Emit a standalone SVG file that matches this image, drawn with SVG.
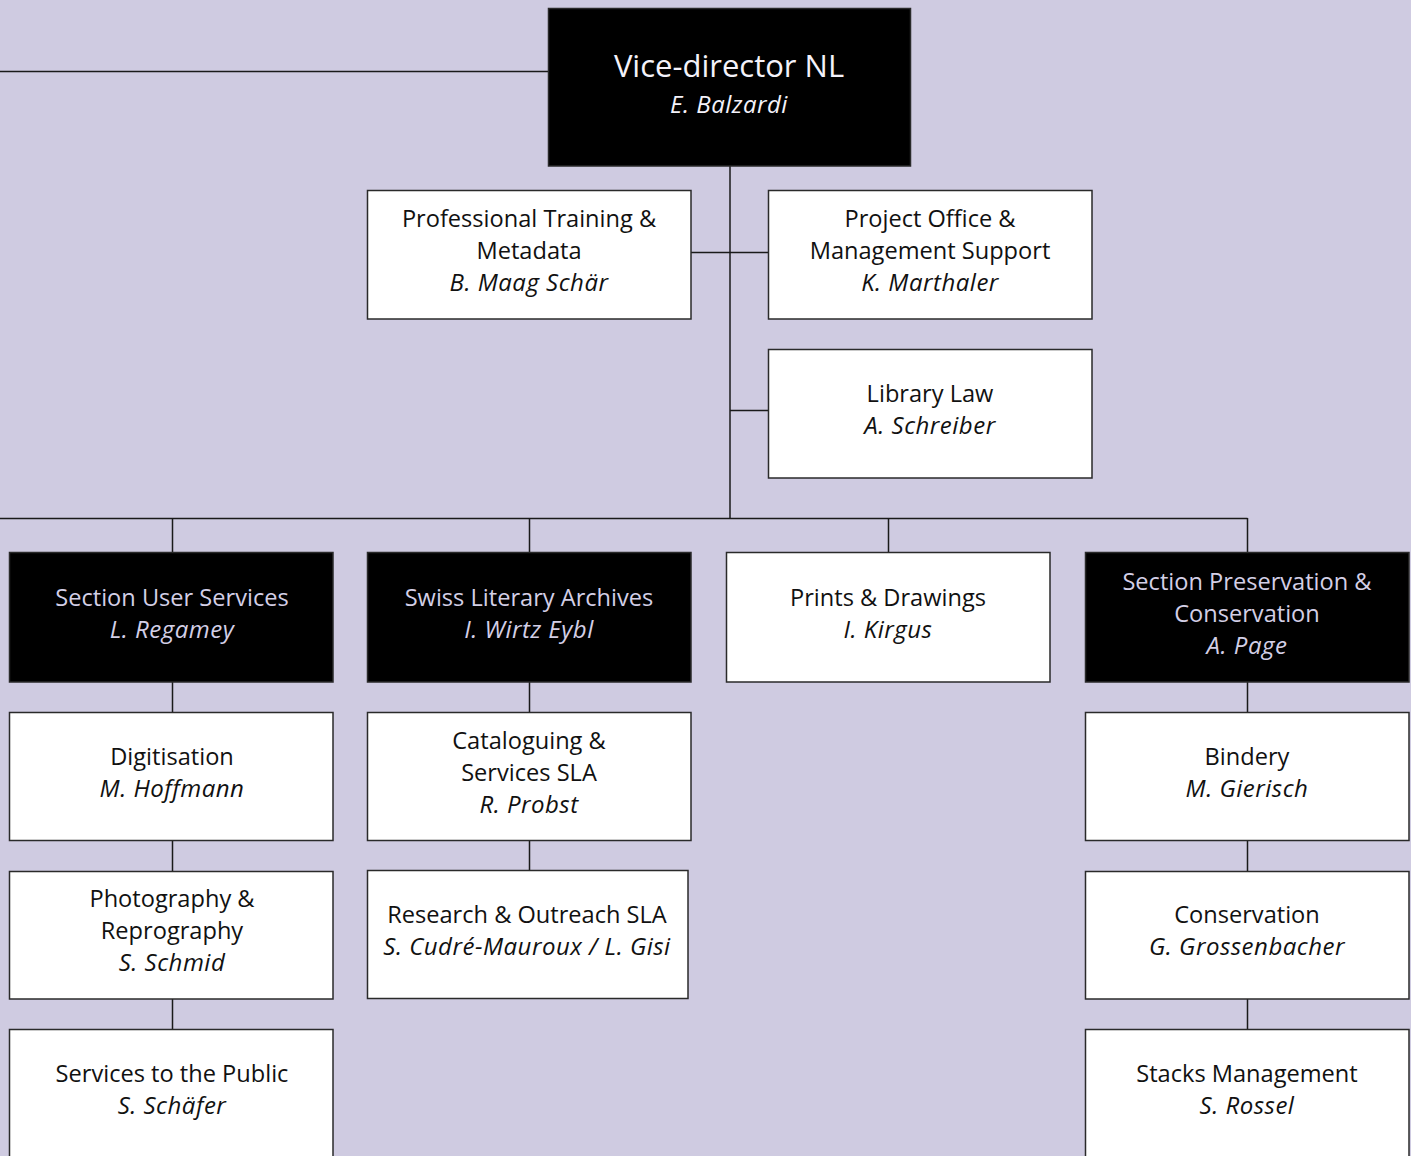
<svg xmlns="http://www.w3.org/2000/svg" width="1411" height="1156" viewBox="0 0 1411 1156">
<style>
.bg{fill:#CFCBE1}
.w{fill:#FFFFFF;stroke:#2a2a2a;stroke-width:1.5}
.b{fill:#000000;stroke:#2a2a2a;stroke-width:1.5}
.ln{stroke:#1a1a1a;stroke-width:1.5;fill:none}
text{font-family:"Open Sans","Noto Sans","Liberation Sans",sans-serif;font-size:23.6px;text-anchor:middle}
.tw{fill:#111}
.tb{fill:#D3CFE6}
.i{font-style:italic;font-size:24px;letter-spacing:0.5px}
</style>
<rect class="bg" x="0" y="0" width="1411" height="1156"/>
<g id="connectors">
<path class="ln" d="M0 71.5H548"/>
<path class="ln" d="M730 166V518"/>
<path class="ln" d="M691 252.5H768"/>
<path class="ln" d="M730 410.5H768"/>
<path class="ln" d="M0 518.5H1247.5"/>
<path class="ln" d="M172.5 518V552M529.5 518V552M888.5 518V552M1247.5 518V552"/>
<path class="ln" d="M172.5 682V712M172.5 840V871M172.5 999V1029"/>
<path class="ln" d="M529.5 682V712M529.5 840V871"/>
<path class="ln" d="M1247.5 682V712M1247.5 840V871M1247.5 999V1029"/>
</g>
<g id="vice-director">
<rect class="b" x="548.5" y="8.5" width="362" height="157.5"/>
<text x="729" y="77" style="font-size:31px;fill:#F4F2FA">Vice-director NL</text>
<text x="729" y="113" class="i" style="fill:#F4F2FA">E. Balzardi</text>
</g>
<g id="prof-training">
<rect class="w" x="367.5" y="190.5" width="323.5" height="128.5"/>
<text x="529" y="227" class="tw">Professional Training &amp;</text>
<text x="529" y="259" class="tw">Metadata</text>
<text x="529" y="291" class="tw i">B. Maag Schär</text>
</g>
<g id="project-office">
<rect class="w" x="768.5" y="190.5" width="323.5" height="128.5"/>
<text x="930" y="227" class="tw">Project Office &amp;</text>
<text x="930" y="259" class="tw">Management Support</text>
<text x="930" y="291" class="tw i">K. Marthaler</text>
</g>
<g id="library-law">
<rect class="w" x="768.5" y="349.5" width="323.5" height="128.5"/>
<text x="930" y="402" class="tw">Library Law</text>
<text x="930" y="434" class="tw i">A. Schreiber</text>
</g>
<g id="user-services">
<rect class="b" x="9.5" y="552.5" width="323.5" height="129.5"/>
<text x="172" y="606" class="tb">Section User Services</text>
<text x="172" y="638" class="tb i">L. Regamey</text>
</g>
<g id="literary-archives">
<rect class="b" x="367.5" y="552.5" width="323.5" height="129.5"/>
<text x="529" y="606" class="tb">Swiss Literary Archives</text>
<text x="529" y="638" class="tb i">I. Wirtz Eybl</text>
</g>
<g id="prints-drawings">
<rect class="w" x="726.5" y="552.5" width="323.5" height="129.5"/>
<text x="888" y="606" class="tw">Prints &amp; Drawings</text>
<text x="888" y="638" class="tw i">I. Kirgus</text>
</g>
<g id="preservation">
<rect class="b" x="1085.5" y="552.5" width="323.5" height="129.5"/>
<text x="1247" y="590" class="tb">Section Preservation &amp;</text>
<text x="1247" y="622" class="tb">Conservation</text>
<text x="1247" y="654" class="tb i">A. Page</text>
</g>
<g id="digitisation">
<rect class="w" x="9.5" y="712.5" width="323.5" height="128"/>
<text x="172" y="765" class="tw">Digitisation</text>
<text x="172" y="797" class="tw i">M. Hoffmann</text>
</g>
<g id="photography">
<rect class="w" x="9.5" y="871.5" width="323.5" height="127.5"/>
<text x="172" y="907" class="tw">Photography &amp;</text>
<text x="172" y="939" class="tw">Reprography</text>
<text x="172" y="971" class="tw i">S. Schmid</text>
</g>
<g id="services-public">
<rect class="w" x="9.5" y="1029.5" width="323.5" height="140"/>
<text x="172" y="1082" class="tw">Services to the Public</text>
<text x="172" y="1114" class="tw i">S. Schäfer</text>
</g>
<g id="cataloguing">
<rect class="w" x="367.5" y="712.5" width="323.5" height="128"/>
<text x="529" y="749" class="tw">Cataloguing &amp;</text>
<text x="529" y="781" class="tw">Services SLA</text>
<text x="529" y="813" class="tw i">R. Probst</text>
</g>
<g id="research">
<rect class="w" x="367.5" y="870.5" width="320.5" height="128"/>
<text x="527" y="923" class="tw">Research &amp; Outreach SLA</text>
<text x="527" y="955" class="tw i">S. Cudré-Mauroux / L. Gisi</text>
</g>
<g id="bindery">
<rect class="w" x="1085.5" y="712.5" width="323.5" height="128"/>
<text x="1247" y="765" class="tw">Bindery</text>
<text x="1247" y="797" class="tw i">M. Gierisch</text>
</g>
<g id="conservation">
<rect class="w" x="1085.5" y="871.5" width="323.5" height="127.5"/>
<text x="1247" y="923" class="tw">Conservation</text>
<text x="1247" y="955" class="tw i">G. Grossenbacher</text>
</g>
<g id="stacks">
<rect class="w" x="1085.5" y="1029.5" width="323.5" height="140"/>
<text x="1247" y="1082" class="tw">Stacks Management</text>
<text x="1247" y="1114" class="tw i">S. Rossel</text>
</g>
</svg>
